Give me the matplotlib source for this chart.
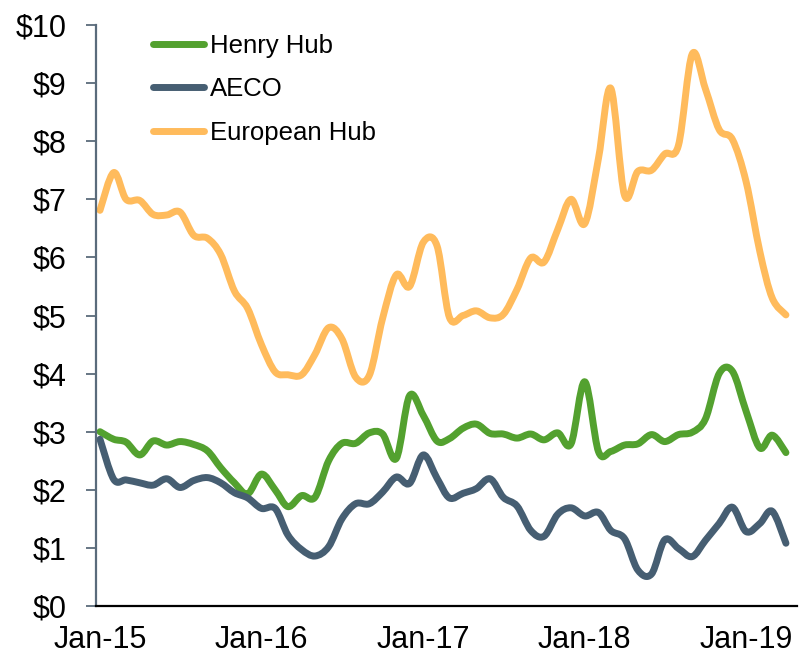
import numpy as np
import pandas as pd
import matplotlib
matplotlib.use('Agg')
import matplotlib.pyplot as plt
import matplotlib.dates as mdates
from matplotlib.path import Path
from matplotlib.patches import PathPatch
from matplotlib.lines import Line2D
from matplotlib.ticker import FuncFormatter

plt.rcParams['font.family'] = ['Liberation Sans', 'DejaVu Sans']

# monthly prices, Jan-15 .. Apr-19 ($/MMBtu)
months = pd.date_range('2015-01-01', periods=52, freq='MS')

henry_hub = [3.00, 2.87, 2.82, 2.60, 2.84, 2.77, 2.83, 2.78, 2.67, 2.38, 2.12, 1.93,
             2.27, 2.00, 1.71, 1.90, 1.87, 2.50, 2.80, 2.80, 2.98, 2.96, 2.54, 3.62,
             3.28, 2.84, 2.88, 3.06, 3.13, 2.97, 2.96, 2.89, 2.96, 2.86, 2.98, 2.79,
             3.86, 2.66, 2.66, 2.77, 2.79, 2.95, 2.83, 2.95, 2.99, 3.22, 4.00, 4.04,
             3.35, 2.72, 2.94, 2.64]

aeco = [2.87, 2.18, 2.17, 2.12, 2.08, 2.19, 2.04, 2.16, 2.21, 2.12, 1.95, 1.86,
        1.68, 1.68, 1.22, 0.97, 0.86, 1.02, 1.50, 1.76, 1.76, 1.96, 2.22, 2.11,
        2.60, 2.20, 1.86, 1.94, 2.02, 2.19, 1.87, 1.72, 1.30, 1.20, 1.58, 1.69,
        1.55, 1.61, 1.30, 1.16, 0.62, 0.55, 1.14, 0.99, 0.85, 1.13, 1.42, 1.70,
        1.28, 1.42, 1.63, 1.08]

european_hub = [6.81, 7.46, 7.00, 6.98, 6.74, 6.73, 6.78, 6.38, 6.33, 6.05, 5.42, 5.12,
                4.50, 4.03, 3.98, 3.98, 4.33, 4.79, 4.60, 3.94, 3.97, 4.95, 5.70, 5.50,
                6.26, 6.20, 4.97, 5.00, 5.08, 4.96, 5.02, 5.45, 5.99, 5.92, 6.48, 7.00,
                6.58, 7.70, 8.91, 7.07, 7.48, 7.50, 7.78, 7.93, 9.50, 8.90, 8.20, 8.03,
                7.30, 6.10, 5.30, 5.01]

labels = ['Henry Hub', 'AECO', 'European Hub']
colors = ['#53A12F', '#465E72', '#FFBB5C']


def smooth_path(x, y):
    # excel-style smoothed line: cubic bezier segments through each point
    p = np.column_stack([x, y])
    ext = np.vstack([p[0], p, p[-1]])
    verts = [p[0]]
    codes = [Path.MOVETO]
    for i in range(len(p) - 1):
        c1 = ext[i + 1] + (ext[i + 2] - ext[i]) / 6
        c2 = ext[i + 2] - (ext[i + 3] - ext[i + 1]) / 6
        verts += [c1, c2, p[i + 1]]
        codes += [Path.CURVE4] * 3
    return Path(verts, codes)


dpi = 100
fig = plt.figure(figsize=(802/dpi, 659/dpi), dpi=dpi)
ax = fig.add_axes([96/802, 1-606/659, (797-96)/802, (606-25)/659])

xnum = mdates.date2num(months)
handles = []
for series, label, color in zip([henry_hub, aeco, european_hub], labels, colors):
    ax.add_patch(PathPatch(smooth_path(xnum, series), fill=False, edgecolor=color,
                           lw=5, joinstyle='round', capstyle='round'))
    handles.append(Line2D([], [], color=color, lw=5, solid_capstyle='round', label=label))

ax.set_ylim(0, 10)
ax.set_yticks(range(0, 11))
ax.yaxis.set_major_formatter(FuncFormatter(lambda v, p: f'${v:.0f}'))
ax.xaxis_date()
ax.set_xlim(pd.Timestamp('2014-12-23'), pd.Timestamp('2019-04-26'))
ax.xaxis.set_major_locator(mdates.MonthLocator(bymonth=1))
ax.xaxis.set_major_formatter(mdates.DateFormatter('%b-%y'))

for s in ['top', 'right']:
    ax.spines[s].set_visible(False)
ax.spines['left'].set_color('#5A6B7B')
ax.spines['left'].set_linewidth(1.6)
ax.spines['bottom'].set_color('black')
ax.spines['bottom'].set_linewidth(1.6)

ax.tick_params(axis='y', length=7, width=1.3, color='#5A6B7B', pad=14, labelsize=22)
ax.tick_params(axis='x', length=0, pad=14, labelsize=22)

ax.legend(handles=handles, loc='upper left', bbox_to_anchor=(0.049, 1.024), frameon=False,
          prop={'size': 18.5},
          handlelength=1.95, handletextpad=0.25, labelspacing=0.75)

fig.savefig('out.png', dpi=dpi)
